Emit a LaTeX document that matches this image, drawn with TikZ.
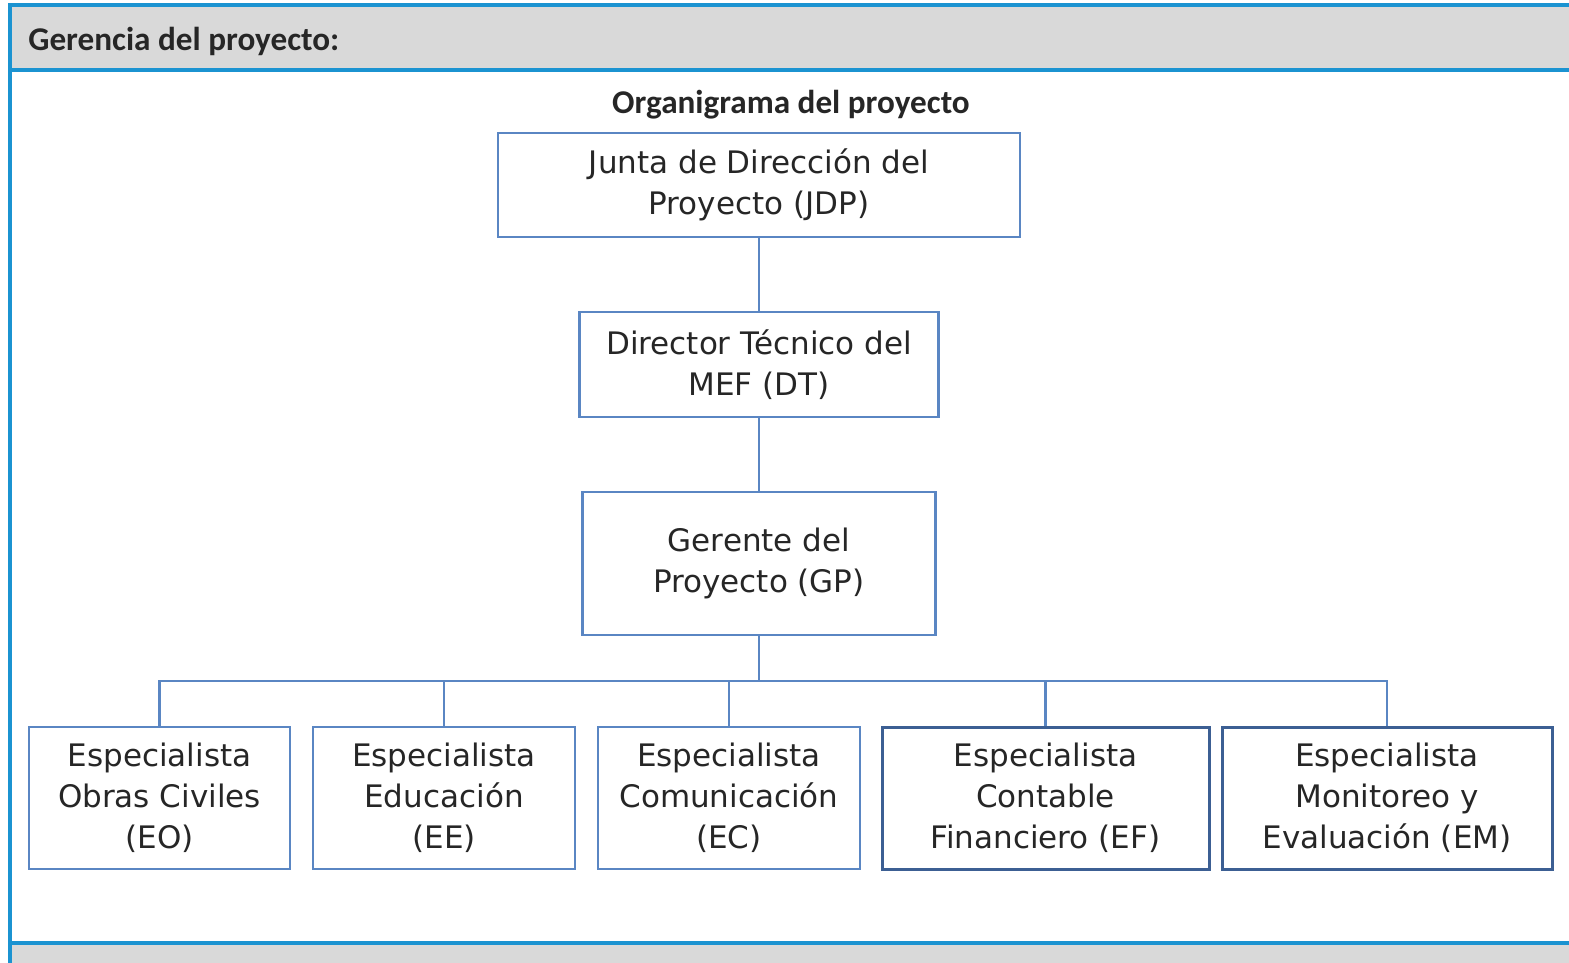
\documentclass[tikz,border=0pt]{standalone}
\usepackage{fontspec}
\setmainfont{DejaVu Sans}
\newfontfamily\hdrfont{Carlito}
\usetikzlibrary{positioning}
\definecolor{frameblue}{HTML}{1B93D1}
\definecolor{boxblue}{HTML}{5A86C3}
\definecolor{boxdark}{HTML}{3C5F93}
\definecolor{bandgrey}{HTML}{D9D9D9}

\begin{document}
\begin{tikzpicture}[x=0.5pt, y=-0.5pt,
    org/.style={draw=boxblue, line width=1.2pt, fill=white, align=center, inner sep=0pt, font=\fontsize{15.5}{20.5}\selectfont, text=black!85},
    orgdk/.style={org, draw=boxdark, line width=1.5pt},
    lnk/.style={draw=boxblue, line width=1.2pt},
    hdr/.style={font=\hdrfont\bfseries\fontsize{16.6}{19}\selectfont, text=black!85, inner sep=0pt}
]
\useasboundingbox (0,0) rectangle (1569,963);
% marco
\fill[white] (0,0) rectangle (1569,963);
\fill[bandgrey] (10,6) rectangle (1569,70);
\fill[bandgrey] (10,943) rectangle (1569,963);
\draw[frameblue, line width=1.8pt] (10,70) -- (1569,70);
\draw[frameblue, line width=1.6pt] (10,943) -- (1569,943);
\draw[frameblue, line width=2.4pt] (1569,5) -- (10,5) -- (10,963);

\node[hdr, anchor=base west] (title) at (28,51) {Gerencia del proyecto:};
\node[hdr, anchor=base] (sub) at (791,114) {Organigrama del proyecto};

\node[org, minimum width=261pt, minimum height=52pt] (jdp) at (759,185) {Junta de Dirección del\\Proyecto (JDP)};
\node[org, minimum width=179.5pt, minimum height=52.5pt] (dt) at (759,364.5) {Director Técnico del\\MEF (DT)};
\node[org, minimum width=176.5pt, minimum height=71.5pt] (gp) at (759,563.5) {Gerente del\\Proyecto (GP)};

\node[org, minimum width=130.5pt, minimum height=71pt] (eo) at (159.5,798) {Especialista\\Obras Civiles\\(EO)};
\node[org, minimum width=131pt, minimum height=71pt] (ee) at (444,798) {Especialista\\Educación\\(EE)};
\node[org, minimum width=131pt, minimum height=71pt] (ec) at (729,798) {Especialista\\Comunicación\\(EC)};
\node[orgdk, minimum width=163.5pt, minimum height=71pt] (ef) at (1045.5,798) {Especialista\\Contable\\Financiero (EF)};
\node[orgdk, minimum width=165pt, minimum height=71pt] (em) at (1387,798) {Especialista\\Monitoreo y\\Evaluación (EM)};

\coordinate (bus) at (759,681);

\draw[lnk] (jdp) -- (dt);
\draw[lnk] (dt) -- (gp);
\draw[lnk] (gp) -- (bus);
\foreach \n in {eo,ee,ec,ef,em}
    \draw[lnk] (bus) -| (\n.north);
\end{tikzpicture}
\end{document}
